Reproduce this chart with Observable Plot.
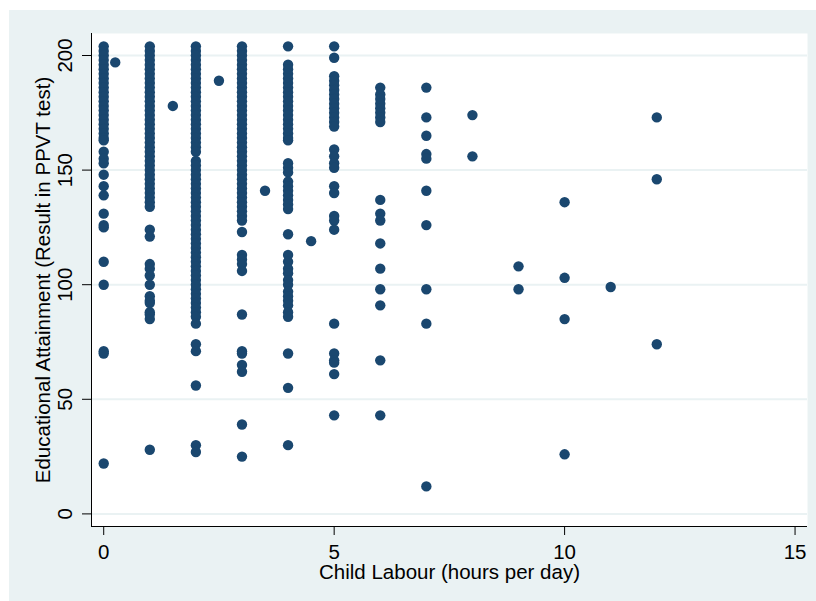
<!DOCTYPE html>
<html>
<head>
<meta charset="utf-8">
<script src="https://cdn.jsdelivr.net/npm/d3@7"></script>
<script src="https://cdn.jsdelivr.net/npm/@observablehq/plot@0.6"></script>
<style>
  html, body { margin: 0; padding: 0; background: #ffffff; overflow: hidden; }
  #chart { padding-left: 9px; padding-top: 10px; }
  #chart svg { display: block; }
</style>
</head>
<body>
<div id="chart"></div>
<script>
// ---- Data ----
const xTitle = "Child Labour (hours per day)";
const yTitle = "Educational Attainment (Result in PPVT test)";
const xTicks = [0, 5, 10, 15];
const yTicks = [0, 50, 100, 150, 200];
const xDomain = [-0.265, 15.27];
const yDomain = [-5.5, 209.6];

const hours0 = [204,202,200,198,196,194,192,190,188,186,184,182,180,178,176,174,172,170,168,166,164,163,158,155,153,148,143,139,131,126,125,110,100,71,70,22];
const hours1 = [204,202,200,198,196,194,192,190,188,186,184,182,180,178,176,174,172,170,168,166,164,162,160,158,156,154,152,150,148,146,144,142,140,138,136,134,124,121,109,107,104,100,95,93,92,88,87,85,28];
const hours2 = [204,202,200,198,196,194,192,190,188,186,184,182,180,178,176,174,172,170,168,166,164,162,160,158,154,152,150,148,146,144,142,140,138,136,134,132,130,128,126,124,122,120,118,116,114,112,110,108,106,104,102,100,98,96,94,92,90,88,86,83,74,71,56,30,27];
const hours3 = [204,202,200,198,196,194,192,190,188,186,184,182,180,178,176,174,172,170,168,166,164,162,160,158,156,154,152,150,148,146,144,142,140,138,136,134,132,130,128,123,113,111,109,106,87,71,70,65,62,39,25];
const hours4 = [204,196,194,192,190,188,186,184,182,180,178,176,174,172,170,168,166,164,163,153,151,149,145,143,141,139,137,135,133,122,113,110,107,105,102,100,97,95,93,91,88,86,70,55,30];
const hours5 = [204,199,191,189,187,185,183,181,179,177,175,173,171,169,159,156,153,151,143,140,130,128,124,83,70,67,66,61,43];
const hours6 = [186,183,181,179,177,175,173,171,137,131,128,118,107,98,91,67,43];
const hours7 = [186,173,165,157,155,141,126,98,83,12];
const hours8 = [174,156];
const hours9 = [108,98];
const hours10 = [136,103,85,26];
const hours11 = [99];
const hours12 = [173,146,74];
const halfHours = [0.25, 1.5, 2.5, 3.5, 4.5];
const halfScores = [197, 178, 189, 141, 119];

const columns = [
  [0, hours0], [1, hours1], [2, hours2], [3, hours3], [4, hours4],
  [5, hours5], [6, hours6], [7, hours7], [8, hours8], [9, hours9],
  [10, hours10], [11, hours11], [12, hours12]
];
const data = [];
for (const [h, scores] of columns) for (const s of scores) data.push({hours: h, score: s});
halfHours.forEach((h, i) => data.push({hours: h, score: halfScores[i]}));

const navy = "#1a476f";
const bg = "#eaf2f3";
const fs = 20.5;

const chart = Plot.plot({
  width: 807,
  height: 591,
  marginLeft: 82,
  marginRight: 9,
  marginTop: 23,
  marginBottom: 75,
  style: {background: bg, fontFamily: "'Liberation Sans', Arial, sans-serif", fontSize: fs + "px", color: "black"},
  x: {domain: xDomain},
  y: {domain: yDomain},
  marks: [
    Plot.frame({fill: "white", stroke: "none"}),
    Plot.ruleY(yTicks, {y: d => d, stroke: bg, strokeWidth: 2}),
    Plot.dot(data, {x: "hours", y: "score", r: 5.2, fill: navy, stroke: "none"}),
    Plot.ruleX([xDomain[0]], {x: d => d, stroke: "black"}),
    Plot.ruleY([yDomain[0]], {y: d => d, stroke: "black"}),
    Plot.axisX({ticks: xTicks, tickSize: 9, tickPadding: 9, fontSize: fs, label: null}),
    Plot.axisY({ticks: yTicks, tickSize: 9, tickFormat: () => "", label: null}),
    Plot.text(yTicks, {y: d => d, text: d => String(d), frameAnchor: "left", textAnchor: "middle", lineAnchor: "middle", dx: -26, rotate: -90, fontSize: fs, fill: "black"}),
    Plot.text([xTitle], {text: d => d, frameAnchor: "bottom", textAnchor: "middle", lineAnchor: "middle", dy: 46, fontSize: fs, fill: "black"}),
    Plot.text([yTitle], {text: d => d, frameAnchor: "left", textAnchor: "middle", lineAnchor: "middle", dx: -48, rotate: -90, fontSize: fs, fill: "black"})
  ]
});
document.getElementById("chart").appendChild(chart);
</script>
</body>
</html>
